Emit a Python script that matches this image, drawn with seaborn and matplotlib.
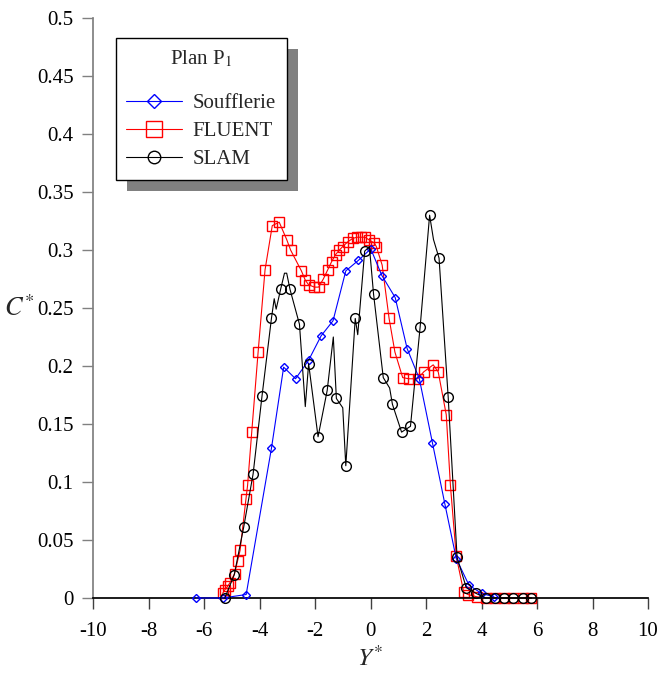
"""Concentration profile C* across Y* in plane P1: wind tunnel vs FLUENT vs SLAM"""

import matplotlib

matplotlib.use("Agg")
import matplotlib.pyplot as plt
from matplotlib.patches import Rectangle
from matplotlib.ticker import FuncFormatter, MultipleLocator
import seaborn as sns

# Soufflerie (wind tunnel measurements)
souff_y = [-6.28, -5.33, -4.48, -3.57, -3.13, -2.70, -2.23, -1.78, -1.35, -0.89,
           -0.44, 0.01, 0.41, 0.89, 1.32, 1.76, 2.23, 2.68, 3.09, 3.55, 4.0, 4.45]
souff_c = [0.0, 0.0, 0.003, 0.129, 0.199, 0.189, 0.205, 0.226, 0.239, 0.282,
           0.291, 0.301, 0.278, 0.259, 0.215, 0.189, 0.134, 0.081, 0.034, 0.011, 0.004, 0.001]

# FLUENT
fluent_y = [-5.33, -5.25, -5.15, -5.07, -4.90, -4.79, -4.70, -4.49, -4.43, -4.28,
            -4.05, -3.80, -3.54, -3.29, -3.02, -2.88, -2.49, -2.35, -2.23, -2.02,
            -1.87, -1.70, -1.54, -1.40, -1.26, -1.12, -1.00, -0.82, -0.64, -0.49,
            -0.34, -0.20, -0.07, 0.14, 0.21, 0.42, 0.67, 0.88, 1.16, 1.38,
            1.70, 1.92, 2.26, 2.44, 2.73, 2.88, 3.09, 3.36, 3.51, 3.84,
            4.15, 4.48, 4.80, 5.14, 5.48, 5.80]
fluent_c = [0.004, 0.007, 0.010, 0.013, 0.021, 0.032, 0.041, 0.085, 0.097, 0.143,
            0.212, 0.283, 0.321, 0.324, 0.309, 0.300, 0.282, 0.274, 0.270, 0.268,
            0.268, 0.275, 0.283, 0.290, 0.296, 0.300, 0.303, 0.307, 0.310, 0.311,
            0.311, 0.311, 0.309, 0.306, 0.303, 0.287, 0.241, 0.212, 0.190, 0.189,
            0.189, 0.195, 0.201, 0.195, 0.158, 0.097, 0.036, 0.005, 0.003, 0.001,
            0.0, 0.0, 0.0, 0.0, 0.0, 0.0]

# SLAM (line has more vertices than marked points)
slam_y = [-5.25, -4.91, -4.57, -4.23, -3.91, -3.57, -3.47, -3.40, -3.24, -3.10,
          -3.02, -2.90, -2.56, -2.35, -2.23, -1.89, -1.56, -1.34, -1.23, -1.00,
          -0.89, -0.55, -0.46, -0.21, -0.04, 0.11, 0.46, 0.69, 0.79, 1.12,
          1.44, 1.79, 2.13, 2.27, 2.47, 2.80, 3.12, 3.45, 3.80, 4.15,
          4.48, 4.80, 5.14, 5.48, 5.80]
slam_c = [0.0, 0.020, 0.061, 0.107, 0.174, 0.241, 0.258, 0.249, 0.266, 0.280,
          0.280, 0.266, 0.236, 0.165, 0.202, 0.139, 0.179, 0.225, 0.172, 0.164,
          0.114, 0.241, 0.227, 0.299, 0.303, 0.262, 0.190, 0.181, 0.167, 0.143,
          0.148, 0.234, 0.330, 0.309, 0.293, 0.173, 0.035, 0.009, 0.004, 0.0,
          0.0, 0.0, 0.0, 0.0, 0.0]
slam_unmarked = [-3.47, -3.40, -3.10, -3.02, -2.35, -1.34, -1.00, -0.46, -0.04, 0.69, 2.27]

sns.set_theme(style="ticks")
plt.rcParams["font.family"] = ["Liberation Serif", "DejaVu Serif"]
plt.rcParams["mathtext.fontset"] = "stix"
plt.rcParams["axes.unicode_minus"] = False

fig = plt.figure(figsize=(6.61, 6.73), dpi=100)
ax = fig.add_axes([93 / 661, 75 / 673, 555 / 661, 580 / 673])

sns.lineplot(x=souff_y, y=souff_c, ax=ax, sort=False, estimator=None,
             color="blue", lw=0.8, marker="D", markersize=4.5,
             markerfacecolor="none", markeredgecolor="blue", markeredgewidth=1.0,
             label="Soufflerie", clip_on=False, zorder=3)
sns.lineplot(x=fluent_y, y=fluent_c, ax=ax, sort=False, estimator=None,
             color="red", lw=0.8, marker="s", markersize=7.2,
             markerfacecolor="none", markeredgecolor="red", markeredgewidth=1.0,
             label="FLUENT", clip_on=False, zorder=2)
marks = [i for i, v in enumerate(slam_y) if v not in slam_unmarked]
sns.lineplot(x=slam_y, y=slam_c, ax=ax, sort=False, estimator=None,
             color="black", lw=0.8, marker="o", markersize=7,
             markevery=marks,
             markerfacecolor="none", markeredgecolor="black", markeredgewidth=1.0,
             label="SLAM", clip_on=False, zorder=4)

ax.set_xlim(-10, 10)
ax.set_ylim(0, 0.5)
ax.xaxis.set_major_locator(MultipleLocator(2))
ax.yaxis.set_major_locator(MultipleLocator(0.05))
ax.yaxis.set_major_formatter(
    FuncFormatter(lambda v, p: f"{v:.2f}".rstrip("0").rstrip("."))
)
sns.despine(ax=ax)
ax.spines["left"].set_color("#808080")
ax.spines["bottom"].set_color("black")
ax.tick_params(direction="out", length=8, width=1, labelsize=15)
ax.tick_params(axis="y", colors="#808080", labelcolor="black", pad=6)
ax.tick_params(axis="x", colors="#404040", labelcolor="black", pad=9)

ax.set_ylabel("$C^{*}$", rotation=0, fontsize=19, ha="center", va="center")
ax.yaxis.set_label_coords(-0.133, 0.5)
ax.set_xlabel("$Y^{*}$", fontsize=18, va="center")
ax.xaxis.set_label_coords(0.5, -0.104)

leg = ax.legend(loc="upper left", bbox_to_anchor=(0.041, 0.966), borderaxespad=0,
                title="Plan P$_1$", fontsize=15, title_fontsize=15,
                frameon=True, fancybox=False, edgecolor="black", framealpha=1,
                handlelength=2.7, handletextpad=0.5, borderpad=0.5, labelspacing=0.4)
leg.get_frame().set_linewidth(1.0)
# more room between the title and the entries, as in the original
leg._legend_box.sep = 18
for h, ms in zip(leg.legend_handles, [7.6, 12, 9]):
    h.set_markersize(ms)

# gray drop shadow behind the legend box
fig.canvas.draw()
bb = leg.get_window_extent()
inv = ax.transAxes.inverted()
x0, y0 = inv.transform((bb.x0 + 11, bb.y0 - 11))
x1, y1 = inv.transform((bb.x1 + 11, bb.y1 - 11))
ax.add_patch(Rectangle((x0, y0), x1 - x0, y1 - y0, transform=ax.transAxes,
                       facecolor="#808080", edgecolor="none", zorder=4.9, clip_on=False))

fig.savefig("out.png", dpi=100)
